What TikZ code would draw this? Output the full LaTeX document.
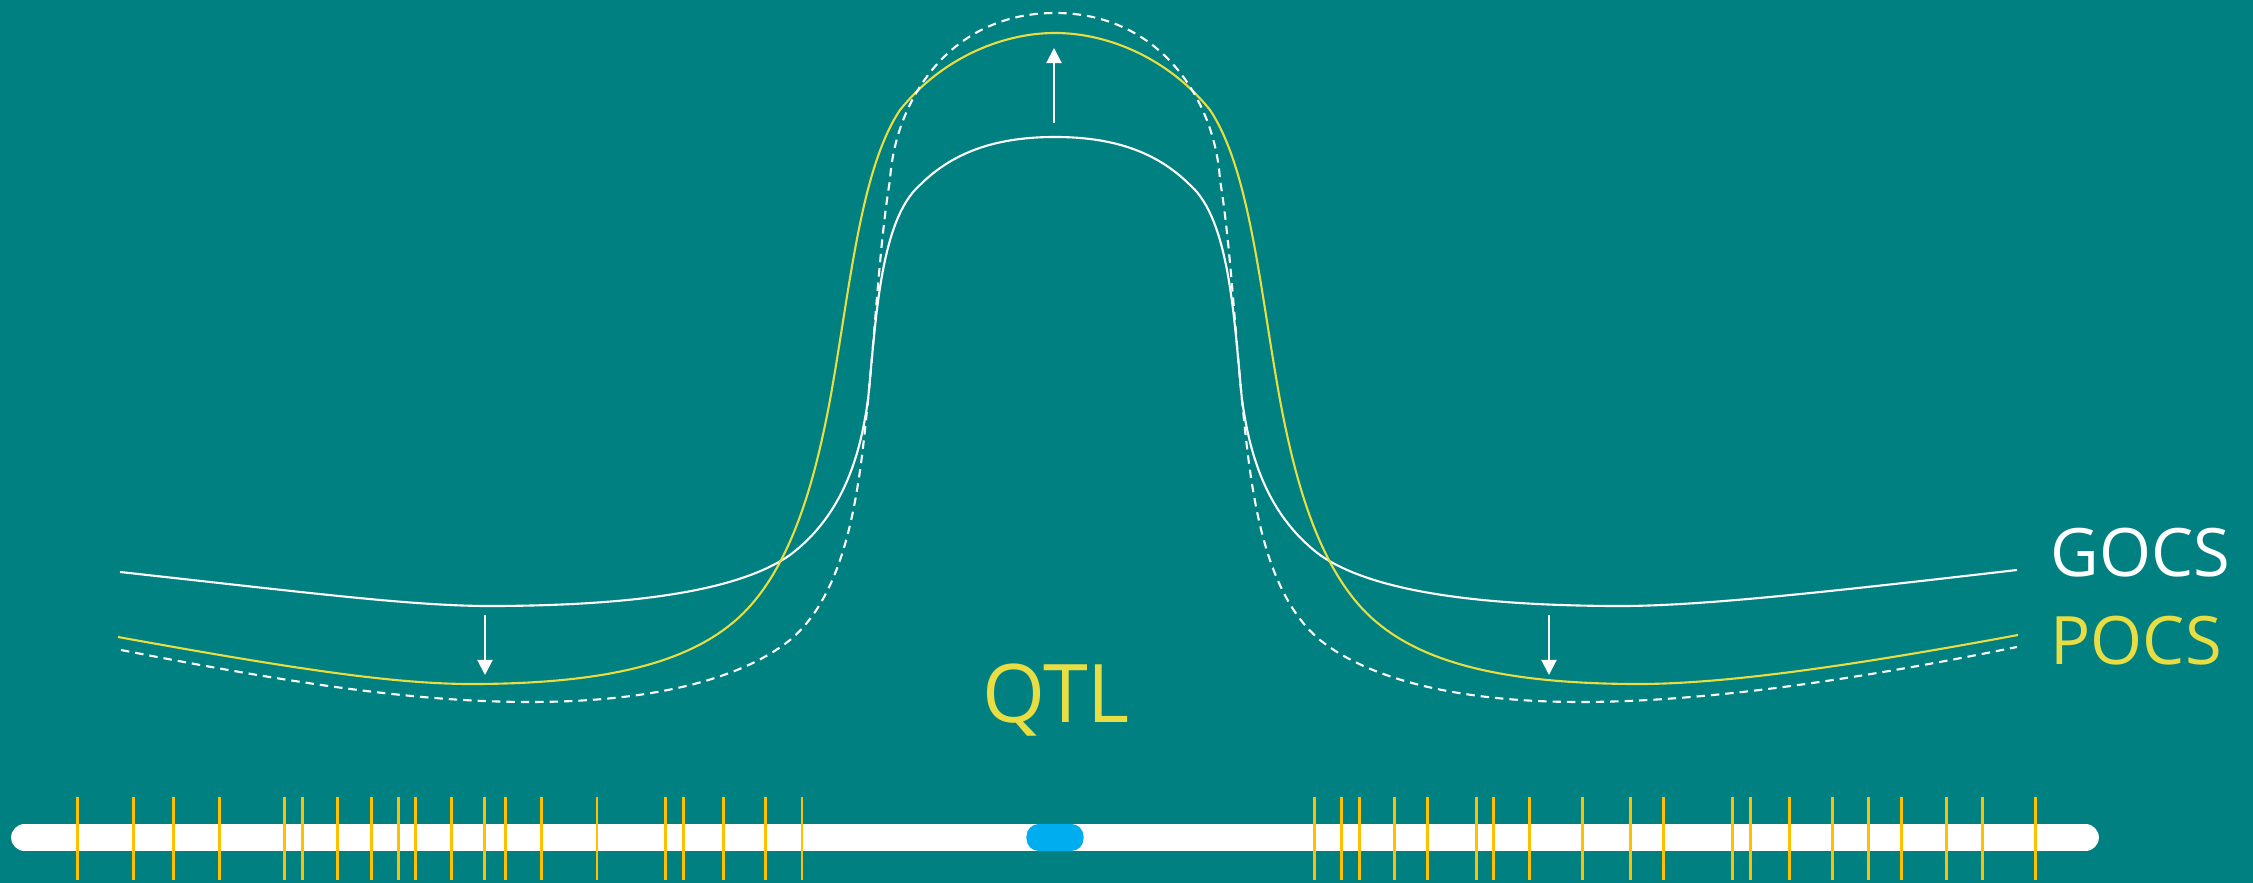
\documentclass[tikz,border=0pt]{standalone}
\usepackage{fontspec}
\setmainfont{Open Sans}
\usetikzlibrary{arrows.meta}
\definecolor{bg}{HTML}{008080}
\definecolor{pocscol}{HTML}{E8DD42}
\definecolor{tickcol}{HTML}{FFC000}
\definecolor{blobcol}{HTML}{00AEEF}
\tikzset{
  gocs/.style={white, line width=0.6pt},
  pocs/.style={pocscol, line width=0.6pt},
  ghost/.style={white, line width=0.6pt, dash pattern=on 2.4pt off 1.7pt},
  shiftarrow/.style={white, line width=0.6pt, -{Triangle[length=4.3pt,width=4.3pt]}},
  qtick/.style={tickcol, line width=0.85pt},
  chrom/.style={white, line width=7.6pt, line cap=round},
  lbl/.style={inner sep=0pt, font=\fontsize{19}{23}\selectfont},
}
\begin{document}
\begin{tikzpicture}[x=0.01cm, y=-0.01cm]
\fill[bg] (0,0) rectangle (2253,883);
\useasboundingbox (0,0) rectangle (2253,883);

% chromosome bar
\coordinate (barL) at (24.5,837.5);
\coordinate (barR) at (2085.5,837.5);
\draw[chrom] (barL) -- (barR);
\foreach \x in {77.5,133.2,173.9,219.3,284.2,302.5,337.5,371.4,398.4,415.6,451.8,484.5,505.2,541.3,597.0,665.9,683.1,723.3,765.8,802.0,
  1314.2,1341.8,1359,1394.4,1427.2,1476.4,1493.6,1529,1582.5,1630,1663.6,1732.6,1750.7,1789.6,1832.7,1868.1,1901.7,1946.6,1982,2035.5}
  \draw[qtick] (\x,797) -- (\x,880);
\node[fill=blobcol, rounded corners=3.5pt, minimum width=0.57cm, minimum height=0.27cm, inner sep=0pt] (blob) at (1055,837.5) {};

% GOCS curve (white solid)
\draw[gocs] (120,572) .. controls (320,594) and (420,607) .. (500,606)
  .. controls (640,605) and (740,590) .. (790,555)
  .. controls (850,510) and (862,440) .. (868,400)
  .. controls (876,320) and (880,220) .. (920,185)
  .. controls (955,150) and (1000,137) .. (1055,137)
  .. controls (1110,137) and (1155,150) .. (1190,185)
  .. controls (1230,220) and (1234,320) .. (1242,400)
  .. controls (1248,440) and (1260,510) .. (1320,555)
  .. controls (1370,590) and (1470,605) .. (1610,606)
  .. controls (1690,607) and (1810,594) .. (2017,570);

% POCS curve (yellow)
\draw[pocs] (118,637) .. controls (300,670) and (400,685) .. (480,684)
  .. controls (600,683) and (680,665) .. (730,625)
  .. controls (790,578) and (815,480) .. (830,400)
  .. controls (850,290) and (860,170) .. (900,110)
  .. controls (940,60) and (1000,33) .. (1055,33)
  .. controls (1110,33) and (1170,60) .. (1210,110)
  .. controls (1250,170) and (1260,290) .. (1280,400)
  .. controls (1295,480) and (1320,578) .. (1380,625)
  .. controls (1430,665) and (1510,683) .. (1630,684)
  .. controls (1710,685) and (1830,670) .. (2018,635);

% dashed curve
\draw[ghost] (121,650) .. controls (300,685) and (420,702) .. (530,702)
  .. controls (650,702) and (740,680) .. (790,640)
  .. controls (850,590) and (860,480) .. (868,400)
  .. controls (876,320) and (880,240) .. (890,180)
  .. controls (895,100) and (950,13) .. (1055,13)
  .. controls (1160,13) and (1215,100) .. (1220,180)
  .. controls (1230,240) and (1234,320) .. (1242,400)
  .. controls (1250,480) and (1260,590) .. (1320,640)
  .. controls (1370,680) and (1460,702) .. (1580,702)
  .. controls (1690,702) and (1830,685) .. (2017,647);

% arrows
\coordinate (upA) at (1054,123);
\coordinate (upB) at (1054,48);
\draw[shiftarrow] (upA) -- (upB);
\coordinate (lA) at (485,615);
\coordinate (lB) at (485,675);
\draw[shiftarrow] (lA) -- (lB);
\coordinate (rA) at (1549,615);
\coordinate (rB) at (1549,675);
\draw[shiftarrow] (rA) -- (rB);

% labels
\node[lbl, anchor=base west, text=white] (gocsl) at (2050,577) {GOCS};
\node[lbl, anchor=base west, text=pocscol] (pocsl) at (2050,665) {POCS};
\node[inner sep=0pt, anchor=base, text=pocscol, font=\fontsize{23}{27}\selectfont] (qtl) at (1056,723) {QTL};
\end{tikzpicture}
\end{document}
